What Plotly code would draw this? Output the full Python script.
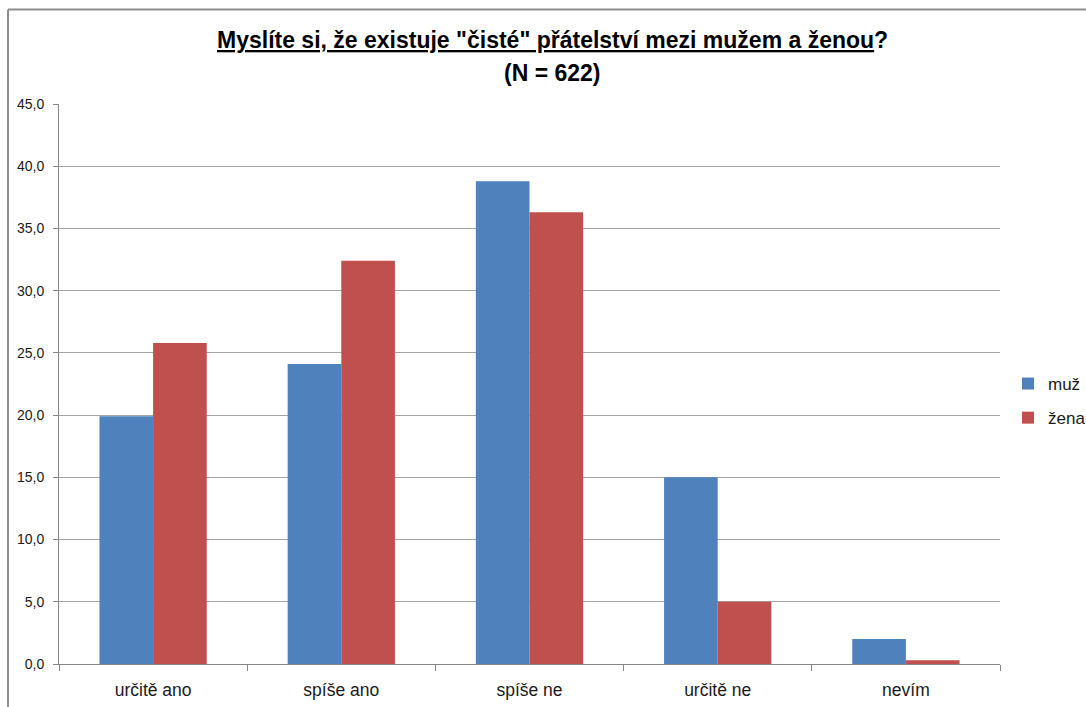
import plotly.graph_objects as go

categories = ["určitě ano", "spíše ano", "spíše ne", "určitě ne", "nevím"]
muz = [19.9, 24.1, 38.8, 15.0, 2.0]
zena = [25.8, 32.4, 36.3, 5.0, 0.3]
series_names = ["muž", "žena"]
title_line1 = 'Myslíte si, že existuje "čisté" přátelství mezi mužem a ženou'
title_line2 = "(N = 622)"

FONT = "Liberation Sans, Arial, sans-serif"
W, H = 1086, 707
ML, MR, MT, MB = 59, 86, 104, 43
pw, ph = W - ML - MR, H - MT - MB

fig = go.Figure()
fig.add_trace(go.Bar(x=categories, y=muz, name=series_names[0], legendgroup="m",
                     marker=dict(color="#4F81BD", line=dict(width=0))))
fig.add_trace(go.Bar(x=categories, y=zena, name=series_names[1], legendgroup="z",
                     marker=dict(color="#C0504D", line=dict(width=0))))

def px_x(p):
    return (p - ML) / pw

def px_y(p):
    return (H - MB - p) / ph

border = "#8c8c8c"
fig.add_shape(type="line", xref="paper", yref="paper",
              x0=px_x(8), x1=px_x(W + 5), y0=px_y(9.5), y1=px_y(9.5),
              line=dict(color=border, width=2))
fig.add_shape(type="line", xref="paper", yref="paper",
              x0=px_x(8), x1=px_x(8), y0=px_y(9.5), y1=px_y(H + 5),
              line=dict(color=border, width=2))

fig.add_annotation(text="<b><u>" + title_line1 + "</u>?</b>",
                   xref="paper", yref="paper", x=px_x(552), y=px_y(40),
                   xanchor="center", yanchor="middle", showarrow=False,
                   font=dict(family=FONT, size=23, color="#000000"))
fig.add_annotation(text="<b>" + title_line2 + "</b>",
                   xref="paper", yref="paper", x=px_x(552), y=px_y(73),
                   xanchor="center", yanchor="middle", showarrow=False,
                   font=dict(family=FONT, size=23, color="#000000"))

fig.update_layout(
    width=W, height=H,
    margin=dict(l=ML, r=MR, t=MT, b=MB, autoexpand=False),
    paper_bgcolor="white", plot_bgcolor="white",
    separators=", ",
    barmode="group", bargap=0.43, bargroupgap=0,
    font=dict(family=FONT, color="#1a1a1a"),
    showlegend=True,
    legend=dict(x=px_x(1008), y=px_y(401), xanchor="left", yanchor="middle",
                font=dict(family=FONT, size=17, color="#1a1a1a"),
                itemwidth=30, traceorder="grouped", tracegroupgap=9,
                bgcolor="rgba(0,0,0,0)"),
    xaxis=dict(
        showgrid=False, showline=True, linecolor="#868686", linewidth=1,
        ticks="outside", ticklen=6, tickcolor="#868686",
        tickson="boundaries", ticklabelstandoff=10,
        tickfont=dict(family=FONT, size=17.5, color="#1a1a1a"),
        zeroline=False,
    ),
    yaxis=dict(
        range=[0, 45], dtick=5, tick0=0, tickformat=".1f",
        showgrid=True, gridcolor="#a6a6a6", gridwidth=1,
        showline=True, linecolor="#868686", linewidth=1,
        ticks="outside", ticklen=5, tickcolor="#868686",
        ticklabelstandoff=6,
        tickfont=dict(family=FONT, size=14, color="#1a1a1a"),
        zeroline=False,
    ),
)

fig.write_html("out.html", config={"displayModeBar": False},
               post_script="document.body.style.margin='0';")
